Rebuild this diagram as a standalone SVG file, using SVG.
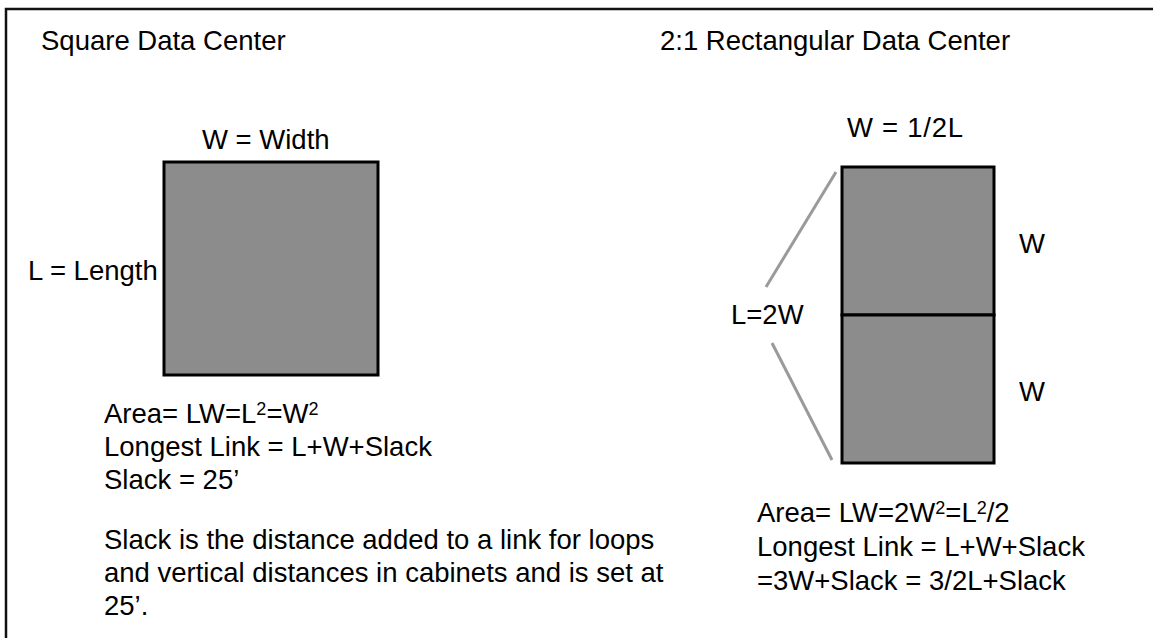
<svg xmlns="http://www.w3.org/2000/svg" width="1153" height="638" viewBox="0 0 1153 638">
  <style>
    text { font-family: "Liberation Sans", Arial, sans-serif; font-size: 27.5px; fill: #000; }
    .sup { font-size: 18px; }
    .block { fill: #8c8c8c; stroke: #000; stroke-width: 3; }
    .bracket { stroke: #9a9a9a; stroke-width: 3; fill: none; stroke-linecap: butt; }
    .frame { fill: none; stroke: #111; stroke-width: 2.5; }
  </style>
  <rect x="0" y="0" width="1153" height="638" fill="#fff"/>
  <path class="frame" d="M6,638 V9 H1153"/>

  <g id="square-title"><text x="41" y="49.5">Square Data Center</text></g>
  <g id="rect-title"><text x="660" y="49.5">2:1 Rectangular Data Center</text></g>

  <g id="square">
    <rect class="block" x="164" y="162" width="214" height="213"/>
    <text x="202" y="149">W = Width</text>
    <text x="28" y="280">L = Length</text>
  </g>

  <g id="rect-top">
    <rect class="block" x="842" y="167" width="152" height="148"/>
  </g>
  <g id="rect-bottom">
    <rect class="block" x="842" y="315" width="152" height="148"/>
  </g>
  <g id="rect-labels">
    <text x="847" y="136.5" textLength="116">W = 1/2L</text>
    <text x="1019" y="253">W</text>
    <text x="1019" y="401">W</text>
    <text x="731" y="324">L=2W</text>
  </g>

  <g id="connectors">
    <line class="bracket" x1="836" y1="172" x2="766" y2="287"/>
    <line class="bracket" x1="772" y1="343" x2="832" y2="460"/>
  </g>

  <g id="square-formulas">
    <text x="104" y="423">Area= LW=L<tspan class="sup" dy="-8.5">2</tspan><tspan dy="8.5">=W</tspan><tspan class="sup" dy="-8.5">2</tspan></text>
    <text x="104" y="456">Longest Link = L+W+Slack</text>
    <text x="104" y="489">Slack = 25’</text>
    <text x="104" y="549">Slack is the distance added to a link for loops</text>
    <text x="104" y="582">and vertical distances in cabinets and is set at</text>
    <text x="104" y="615">25’.</text>
  </g>

  <g id="rect-formulas">
    <text x="757" y="522">Area= LW=2W<tspan class="sup" dy="-8.5">2</tspan><tspan dy="8.5">=L</tspan><tspan class="sup" dy="-8.5">2</tspan><tspan dy="8.5">/2</tspan></text>
    <text x="757" y="556">Longest Link = L+W+Slack</text>
    <text x="757" y="590">=3W+Slack = 3/2L+Slack</text>
  </g>
</svg>
